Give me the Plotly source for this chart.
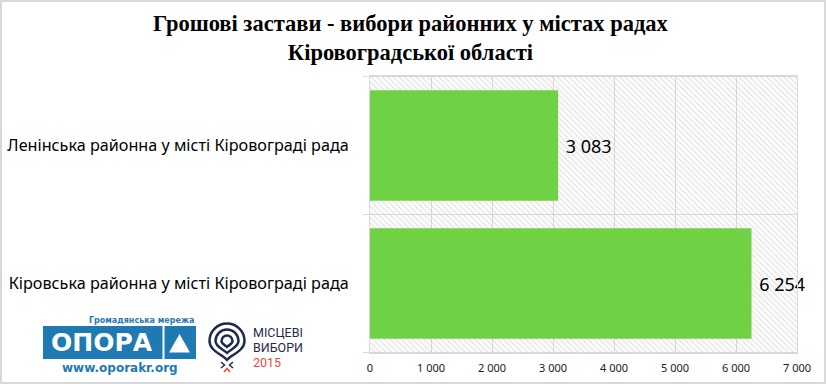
import plotly.graph_objects as go

# ---- data ----
categories = ["Ленінська районна у місті Кіровограді рада",
              "Кіровська районна у місті Кіровограді рада"]
values = [3083, 6254]
x_max = 7000
tick_values = [0, 1000, 2000, 3000, 4000, 5000, 6000, 7000]
tick_labels = ["0", "1 000", "2 000", "3 000", "4 000", "5 000", "6 000", "7 000"]
title_text = "Грошові застави - вибори районних у містах радах<br>Кіровоградської області"

W, H = 826, 384
ML, MR, MT, MB = 370, 29, 76, 31
PW, PH = W - ML - MR, H - MT - MB


def px(x):
    return (x - ML) / PW


def py(y):
    return (H - MB - y) / PH


GRID = "#d9d9d9"
GREEN = "#6fd244"
BLUE = "#1f79b2"
NAVY = "#1f2a4c"

fig = go.Figure()

# hatched plot background (full-width band for each category)
fig.add_trace(go.Bar(
    y=categories, x=[x_max] * len(categories), orientation="h", width=1,
    marker=dict(color="rgba(0,0,0,0)", line=dict(width=0),
                pattern=dict(shape="\\", fgcolor="#c4c4c4", bgcolor="rgba(0,0,0,0)",
                             size=4, solidity=0.3)),
    hoverinfo="skip", showlegend=False))

# data bars
fig.add_trace(go.Bar(
    y=categories, x=values, orientation="h", width=0.8,
    marker=dict(color=GREEN, line=dict(width=0)),
    text=["\u00a0" + f"{v:,}".replace(",", " ") for v in values],
    textposition="outside", cliponaxis=False, constraintext="none",
    textfont=dict(family="Noto Sans", size=18, color="#000000"),
    hoverinfo="skip", showlegend=False))

shapes = []
# category separators / frame lines with small outside ticks
for yv in [-0.5, 0.5, 1.5]:
    shapes.append(dict(type="line", xref="x domain", yref="y", x0=-0.017, x1=1,
                       y0=yv, y1=yv, line=dict(color=GRID, width=1), layer="below"))

# outer image frame
shapes.append(dict(type="rect", xref="paper", yref="paper",
                   x0=px(1), x1=px(825), y0=py(1), y1=py(383),
                   line=dict(color=GRID, width=2), layer="below"))

# ---- OPORA logo ----
shapes.append(dict(type="rect", xref="paper", yref="paper",
                   x0=px(43), x1=px(196), y0=py(359), y1=py(326),
                   fillcolor=BLUE, line=dict(width=0)))
shapes.append(dict(type="line", xref="paper", yref="paper",
                   x0=px(163.5), x1=px(163.5), y0=py(359), y1=py(326),
                   line=dict(color="white", width=2)))
shapes.append(dict(type="path", xref="paper", yref="paper",
                   path=f"M {px(169)},{py(352.5)} L {px(179.5)},{py(334)} L {px(190)},{py(352.5)} Z",
                   fillcolor="white", line=dict(width=0)))


def teardrop(cx, cy, rx, ry, tipy):
    k = 0.5523
    d = tipy - cy
    pts = [
        f"M {px(cx - rx)},{py(cy)}",
        f"C {px(cx - rx)},{py(cy - k * ry)} {px(cx - k * rx)},{py(cy - ry)} {px(cx)},{py(cy - ry)}",
        f"C {px(cx + k * rx)},{py(cy - ry)} {px(cx + rx)},{py(cy - k * ry)} {px(cx + rx)},{py(cy)}",
        f"C {px(cx + rx)},{py(cy + 0.5 * d)} {px(cx + 0.3 * rx)},{py(tipy - 0.3 * d)} {px(cx)},{py(tipy)}",
        f"C {px(cx - 0.3 * rx)},{py(tipy - 0.3 * d)} {px(cx - rx)},{py(cy + 0.5 * d)} {px(cx - rx)},{py(cy)}",
        "Z",
    ]
    return " ".join(pts)


for rx, ry, tip in [(17.5, 17.5, 360), (11.5, 11.5, 353), (5.5, 5.5, 347)]:
    shapes.append(dict(type="path", xref="paper", yref="paper",
                       path=teardrop(227, 341, rx, ry, tip),
                       line=dict(color=NAVY, width=2.5), fillcolor="rgba(0,0,0,0)"))

shapes.append(dict(type="path", xref="paper", yref="paper",
                   path=f"M {px(221)},{py(362)} L {px(224.5)},{py(365)} L {px(221)},{py(368)}",
                   line=dict(color=NAVY, width=1.5)))
shapes.append(dict(type="path", xref="paper", yref="paper",
                   path=f"M {px(233)},{py(362)} L {px(229.5)},{py(365)} L {px(233)},{py(368)}",
                   line=dict(color=NAVY, width=1.5)))
shapes.append(dict(type="path", xref="paper", yref="paper",
                   path=f"M {px(224)},{py(372)} L {px(227)},{py(368.5)} L {px(230)},{py(372)}",
                   line=dict(color="#e8473f", width=1.5)))

annotations = [
    dict(text=title_text, xref="paper", yref="paper", x=px(411), y=py(38),
         xanchor="center", yanchor="middle", showarrow=False,
         font=dict(family="Liberation Serif", size=22.5, color="#000000", weight="bold")),
    dict(text="<b>Громадянська мережа</b>", xref="paper", yref="paper", x=px(196), y=py(320.5),
         xanchor="right", yanchor="middle", showarrow=False,
         font=dict(family="DejaVu Sans", size=8, color=BLUE)),
    dict(text="<b>ОПОРА</b>", xref="paper", yref="paper", x=px(102), y=py(342.5),
         xanchor="center", yanchor="middle", showarrow=False,
         font=dict(family="DejaVu Sans", size=25, color="white")),
    dict(text="<b>www.oporakr.org</b>", xref="paper", yref="paper", x=px(119.5), y=py(368),
         xanchor="center", yanchor="middle", showarrow=False,
         font=dict(family="DejaVu Sans", size=12, color=BLUE)),
    dict(text="МІСЦЕВІ", xref="paper", yref="paper", x=px(251), y=py(332.5),
         xanchor="left", yanchor="middle", showarrow=False,
         font=dict(family="Roboto", size=12.5, color=NAVY)),
    dict(text="ВИБОРИ", xref="paper", yref="paper", x=px(251), y=py(347),
         xanchor="left", yanchor="middle", showarrow=False,
         font=dict(family="Roboto", size=12.5, color=NAVY)),
    dict(text="2015", xref="paper", yref="paper", x=px(251), y=py(362),
         xanchor="left", yanchor="middle", showarrow=False,
         font=dict(family="Roboto", size=12.5, color="#e8473f")),
]

fig.update_layout(
    width=W, height=H, autosize=False,
    margin=dict(l=ML, r=MR, t=MT, b=MB, pad=0),
    paper_bgcolor="white", plot_bgcolor="white",
    barmode="overlay", bargap=0.2,
    showlegend=False,
    shapes=shapes, annotations=annotations,
    xaxis=dict(range=[0, x_max], tickvals=tick_values, ticktext=tick_labels,
               showgrid=True, gridcolor=GRID, gridwidth=1, zeroline=False,
               showline=True, linecolor=GRID, linewidth=1, mirror=True,
               ticks="", ticklabelstandoff=5, automargin=False,
               tickfont=dict(family="Noto Sans", size=11, color="#1a1a1a"),
               fixedrange=True),
    yaxis=dict(categoryorder="array", categoryarray=categories, autorange="reversed",
               showgrid=False, zeroline=False,
               showline=True, linecolor=GRID, linewidth=1, mirror=True,
               ticks="", ticklabelstandoff=17, automargin=False,
               tickfont=dict(family="Noto Sans", size=16.2, color="#000000"),
               fixedrange=True),
)

fig.write_html("out.html")
